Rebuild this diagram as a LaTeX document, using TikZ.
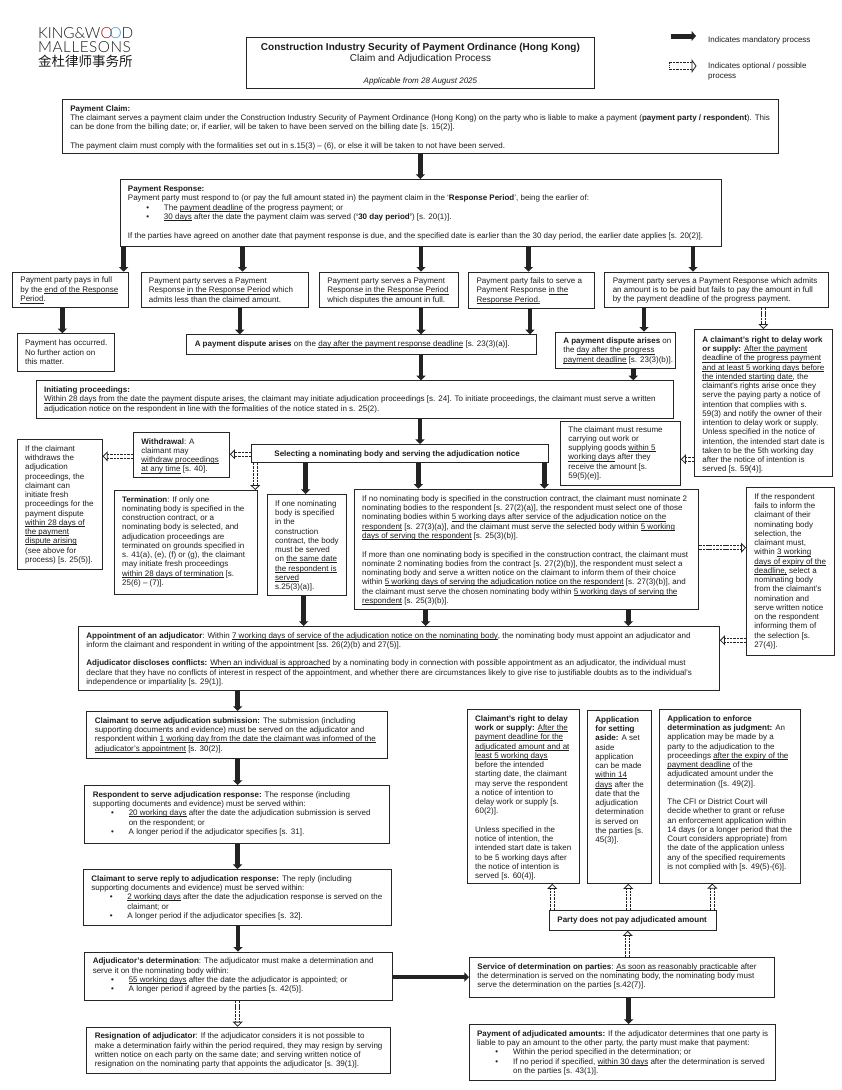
\documentclass[tikz,border=0pt]{standalone}
\usepackage{fontspec}
\setmainfont{Liberation Sans}
\newfontfamily\cjkfont{Noto Sans CJK SC}
\newfontfamily\logofont{Lato Light}
\newfontfamily\logofontb{Lato Light}[LetterSpace=3.6]
\usetikzlibrary{arrows.meta}
\definecolor{ink}{HTML}{1E1E1E}
\definecolor{frame}{HTML}{262626}
\definecolor{arrowc}{HTML}{232323}
\newlength{\gapl}\setlength{\gapl}{9.3pt}
\newcommand{\und}[1]{\setbox0\hbox{#1}\leavevmode\rlap{\rule[-1.5pt]{\wd0}{0.8pt}}\box0\relax}
\newcommand{\bitem}{\hspace*{18.3pt}\makebox[17.7pt][l]{\textbullet}}
\newcommand{\bcont}{\hspace*{36pt}}
\newcommand{\ctrline}[1]{\makebox[348pt][c]{#1}}
% [first baseline]{name}{x1}{y1}{x2}{y2}{text}
\newcommand{\bx}[7][11.8]{%
  \pgfmathsetlengthmacro\bw{(#5-#3)*1pt}%
  \pgfmathsetlengthmacro\bh{(#6-#4)*1pt}%
  \node[procbox,anchor=north west] (#2) at (#3pt,-#4pt) {%
    \begin{minipage}[c][\bh][t]{\bw}%
      \fontsize{8}{9.25}\selectfont\leftskip=8pt\rightskip=-200pt plus 1fil\relax
      \rule{0pt}{#1pt}#7%
    \end{minipage}};%
}
\tikzset{
  procbox/.style={draw=frame,line width=0.9pt,inner sep=0pt,text=ink,fill=white},
  mand/.style={draw=arrowc,line width=4.6pt,-{Triangle[length=4.7pt,width=9.2pt,fill=arrowc]}},
  opt/.style={draw=arrowc,double=white,double distance=3.4pt,line width=0.8pt,dash pattern=on 2.5pt off 0.9pt,
     -{Triangle[open,length=5pt,width=10pt,line width=0.8pt,fill=white]}},
  legendtext/.style={inner sep=0pt,text=ink,font=\fontsize{8}{9.25}\selectfont,align=left},
  logotext/.style={inner sep=0pt,text=black!90},
}
\begin{document}
\begin{tikzpicture}[x=1pt,y=1pt]
\useasboundingbox (0,0) rectangle (842pt,-1090pt);
% logo
\node[logotext,anchor=base west,font=\logofont\fontsize{15.3}{15.3}\selectfont] (logoa) at (38pt,-38.6pt) {KING\&W{\color{red!80!black}O}\kern-3pt{\color{cyan!80!black}O}D};
\node[logotext,anchor=base west,font=\logofontb\fontsize{15.3}{15.3}\selectfont] (logob) at (38pt,-52.8pt) {MALLESONS};
\node[logotext,anchor=base west,font=\cjkfont\fontsize{13.5}{13.5}\selectfont] (logoc) at (38pt,-66.5pt) {金杜律师事务所};
% title
\bx[13.3]{title}{246}{36.7}{594}{88}{\leftskip=0pt\baselineskip=11pt
  \ctrline{\fontsize{10}{11}\selectfont\bfseries Construction Industry Security of Payment Ordinance (Hong Kong)}\\
  \ctrline{\fontsize{10}{11}\selectfont Claim and Adjudication Process}\\[10.6pt]
  \ctrline{\fontsize{8}{11}\selectfont\itshape Applicable from 28 August 2025}}
% legend
\coordinate (lega) at (671pt,-36pt);
\coordinate (legb) at (696pt,-36pt);
\coordinate (legc) at (669.5pt,-66pt);
\coordinate (legd) at (696.5pt,-66pt);
\node[legendtext,anchor=base west] (legt1) at (708pt,-42pt) {Indicates mandatory process};
\node[legendtext,anchor=base west] (legt2) at (708pt,-78.1pt) {Indicates optional / possible\\process};
\draw[mand,line width=5pt,-{Triangle[length=4.5pt,width=10pt,fill=arrowc]}] (lega) -- (legb);
\draw[opt,double distance=6.4pt,-{Triangle[open,length=5pt,width=14pt,line width=0.8pt,fill=white]}] (legc) -- (legd);
\draw[draw=arrowc,line width=0.8pt,dash pattern=on 1.5pt off 0.7pt] ([yshift=3.6pt]legc) -- ([yshift=-3.6pt]legc);
% boxes
\bx{pc}{61.8}{99}{778}{153}{\textbf{Payment Claim:}\\
The claimant serves a payment claim under the Construction Industry Security of Payment Ordinance (Hong Kong) on the party who is liable to make a payment (\textbf{payment party / respondent}). This\\
can be done from the billing date; or, if earlier, will be taken to have been served on the billing date [s. 15(2)].\\[\gapl]
The payment claim must comply with the formalities set out in s.15(3) – (6), or else it will be taken to not have been served.}
\bx{pr}{119.5}{179}{721.3}{246}{\baselineskip=9.5pt \textbf{Payment Response:}\\
Payment party must respond to (or pay the full amount stated in) the payment claim in the ‘\textbf{Response Period}’, being the earlier of:\\
\bitem The \und{payment deadline} of the progress payment; or\\
\bitem\und{30 days} after the date the payment claim was served (\textbf{‘30 day period’}) [s. 20(1)].\\[8.8pt]
If the parties have agreed on another date that payment response is due, and the specified date is earlier than the 30 day period, the earlier date applies [s. 20(2)].}
\bx[10.8]{pays}{12}{271.7}{128}{306.7}{\baselineskip=9.5pt Payment party pays in full\\by the \und{end of the Response}\\\und{Period}.}
\bx[11.3]{less}{140.5}{271.7}{307.8}{306.7}{\baselineskip=9.5pt Payment party serves a Payment\\Response \und{in the Response Period} which\\admits less than the claimed amount.}
\bx[11.3]{disp}{318.8}{271.7}{458.3}{306.7}{\baselineskip=9.5pt Payment party serves a Payment\\Response \und{in the Response Period}\\which disputes the amount in full.}
\bx[11.3]{fail}{468.2}{271.7}{593.8}{307.7}{\baselineskip=9.5pt Payment party fails to serve a\\Payment Response \und{in the}\\\und{Response Period.}}
\bx[11.3]{admit}{604.3}{271.7}{828}{306.7}{\baselineskip=9.2pt Payment party serves a Payment Response which admits\\an amount is to be paid but fails to pay the amount in full\\by the payment deadline of the progress payment.}
\bx{occ}{16.6}{333.3}{113.6}{371}{\baselineskip=9.5pt Payment has occurred.\\No further action on\\this matter.}
\bx{da}{186.3}{334.3}{535.5}{354}{\textbf{A payment dispute arises} on the \und{day after the payment response deadline} [s. 23(3)(a)].}
\bx[11.3]{db}{554.9}{331.7}{674.5}{368}{\baselineskip=9.4pt \textbf{A payment dispute arises} on\\the \und{day after the progress}\\\und{payment deadline} [s. 23(3)(b)].}
\bx[13]{rightone}{694}{329}{832}{476}{\textbf{A claimant's right to delay work}\\\textbf{or supply:} \und{After the payment}\\\und{deadline of the progress payment}\\\und{and at least 5 working days before}\\\und{the intended starting date}, the\\claimant's rights arise once they\\serve the paying party a notice of\\intention that complies with s.\\59(3) and notify the owner of their\\intention to delay work or supply.\\Unless specified in the notice of\\intention, the intended start date is\\taken to be the 5th working day\\after the notice of intention is\\served [s. 59(4)].}
\bx{init}{35.7}{380.3}{672.7}{418}{\textbf{Initiating proceedings:}\\
\und{Within 28 days from the date the payment dispute arises}, the claimant may initiate adjudication proceedings [s. 24]. To initiate proceedings, the claimant must serve a written\\
adjudication notice on the respondent in line with the formalities of the notice stated in s. 25(2).}
\bx{fresh}{16.7}{439}{101.7}{569}{If the claimant\\withdraws the\\adjudication\\proceedings, the\\claimant can\\initiate fresh\\proceedings for the\\payment dispute\\\und{within 28 days of}\\\und{the payment}\\\und{dispute arising}\\(see above for\\process) [s. 25(5)].}
\bx[11.6]{wd}{133}{432}{229}{477}{\textbf{Withdrawal}: A\\claimant may\\\und{withdraw proceedings}\\\und{at any time} [s. 40].}
\bx[12]{sel}{251}{444}{548.3}{462}{\hspace*{15pt}\textbf{Selecting a nominating body and serving the adjudication notice}}
\bx[11.6]{term}{113.7}{490}{256.7}{594}{\textbf{Termination}: If only one\\nominating body is specified in the\\construction contract, or a\\nominating body is selected, and\\adjudication proceedings are\\terminated on grounds specified in\\s. 41(a), (e), (f) or (g), the claimant\\may initiate fresh proceedings\\\und{within 28 days of termination} [s.\\25(6) – (7)].}
\bx{one}{266.7}{494}{345.7}{595}{If one nominating\\body is specified\\in the\\construction\\contract, the body\\must be served\\on \und{the same date}\\\und{the respondent is}\\\und{served}\\s.25(3)(a)].}
\bx[12.3]{none}{353.7}{488.7}{698.3}{609}{If no nominating body is specified in the construction contract, the claimant must nominate 2\\
nominating bodies to the respondent [s. 27(2)(a)], the respondent must select one of those\\
nominating bodies within \und{5 working days after service of the adjudication notice on the}\\
\und{respondent} [s. 27(3)(a)], and the claimant must serve the selected body within \und{5 working}\\
\und{days of serving the respondent} [s. 25(3)(b)].\\[\gapl]
If more than one nominating body is specified in the construction contract, the claimant must\\
nominate 2 nominating bodies from the contract [s. 27(2)(b)], the respondent must select a\\
nominating body and serve a written notice on the claimant to inform them of their choice\\
within \und{5 working days of serving the adjudication notice on the respondent} [s. 27(3)(b)], and\\
the claimant must serve the chosen nominating body within \und{5 working days of serving the}\\
\und{respondent} [s. 25(3)(b)].}
\bx[11]{resume}{560}{420.7}{680}{485}{The claimant must resume\\carrying out work or\\supplying goods \und{within 5}\\\und{working days} after they\\receive the amount [s.\\59(5)(e)].}
\bx[12]{rfail}{746}{487}{833.7}{654.7}{If the respondent\\fails to inform the\\claimant of their\\nominating body\\selection, the\\claimant must,\\within \und{3 working}\\\und{days of expiry of the}\\\und{deadline,} select a\\nominating body\\from the claimant's\\nomination and\\serve written notice\\on the respondent\\informing them of\\the selection [s.\\27(4)].}
\bx[11.6]{appt}{78}{626}{719}{690.3}{\textbf{Appointment of an adjudicator}: Within \und{7 working days of service of the adjudication notice on the nominating body}, the nominating body must appoint an adjudicator and\\
inform the claimant and respondent in writing of the appointment [ss. 26(2)(b) and 27(5)].\\[\gapl]
\textbf{Adjudicator discloses conflicts:} \und{When an individual is approached} by a nominating body in connection with possible appointment as an adjudicator, the individual must\\
declare that they have no conflicts of interest in respect of the appointment, and whether there are circumstances likely to give rise to justifiable doubts as to the individual's\\
independence or impartiality [s. 29(1)].}
\bx{subm}{86.3}{711}{386.7}{758}{\textbf{Claimant to serve adjudication submission:} The submission (including\\supporting documents and evidence) must be served on the adjudicator and\\respondent within \und{1 working day from the date the claimant was informed of the}\\\und{adjudicator's appointment} [s. 30(2)].}
\bx{resp}{84.3}{785}{389}{842.7}{\textbf{Respondent to serve adjudication response:} The response (including\\supporting documents and evidence) must be served within:\\
\bitem\und{20 working days} after the date the adjudication submission is served\\\bcont on the respondent; or\\
\bitem A longer period if the adjudicator specifies [s. 31].}
\bx{reply}{83}{869}{391}{924.7}{\textbf{Claimant to serve reply to adjudication response:} The reply (including\\supporting documents and evidence) must be served within:\\
\bitem\und{2 working days} after the date the adjudication response is served on the\\\bcont claimant; or\\
\bitem A longer period if the adjudicator specifies [s. 32].}
\bx{det}{84.3}{951.7}{391.7}{999.7}{\textbf{Adjudicator's determination}: The adjudicator must make a determination and\\serve it on the nominating body within:\\
\bitem\und{55 working days} after the date the adjudicator is appointed; or\\
\bitem A longer period if agreed by the parties [s. 42(5)].}
\bx{resign}{86.3}{1026.7}{390}{1073}{\textbf{Resignation of adjudicator}: If the adjudicator considers it is not possible to\\make a determination fairly within the period required, they may resign by serving\\written notice on each party on the same date; and serving written notice of\\resignation on the nominating party that appoints the adjudicator [s. 39(1)].}
\bx{delay}{466.7}{709}{579}{883}{\textbf{Claimant's right to delay}\\\textbf{work or supply:} \und{After the}\\\und{payment deadline for the}\\\und{adjudicated amount and at}\\\und{least 5 working days}\\before the intended\\starting date, the claimant\\may serve the respondent\\a notice of intention to\\delay work or supply [s.\\60(2)].\\[\gapl]Unless specified in the\\notice of intention, the\\intended start date is taken\\to be 5 working days after\\the notice of intention is\\served [s. 60(4)].}
\bx{aside}{587}{710}{651}{883}{\textbf{Application}\\\textbf{for setting}\\\textbf{aside:} A set\\aside\\application\\can be made\\\und{within 14}\\\und{days} after the\\date that the\\adjudication\\determination\\is served on\\the parties [s.\\45(3)].}
\bx{enf}{659}{709}{799.7}{882.7}{\textbf{Application to enforce}\\\textbf{determination as judgment:} An\\application may be made by a\\party to the adjudication to the\\proceedings \und{after the expiry of the}\\\und{payment deadline} of the\\adjudicated amount under the\\determination ([s. 49(2)].\\[\gapl]The CFI or District Court will\\decide whether to grant or refuse\\an enforcement application within\\14 days (or a longer period that the\\Court considers appropriate) from\\the date of the application unless\\any of the specified requirements\\is not complied with [s. 49(5)-(6)].}
\bx[12]{party}{549}{910}{716}{930}{\textbf{Party does not pay adjudicated amount}}
\bx{serv}{469}{957}{774}{997}{\textbf{Service of determination on parties}: \und{As soon as reasonably practicable} after\\the determination is served on the nominating body, the nominating body must\\serve the determination on the parties [s.42(7)].}
\bx{payam}{468.7}{1024}{775}{1080}{\textbf{Payment of adjudicated amounts:} If the adjudicator determines that one party is\\liable to pay an amount to the other party, the party must make that payment:\\
\bitem Within the period specified in the determination; or\\
\bitem If no period if specified, \und{within 30 days} after the determination is served\\\bcont on the parties [s. 43(1)].}
% mandatory arrows
\draw[mand] (pc.south -| 420.4pt,0) -- (pr.north -| 420.4pt,0);
\draw[mand] (pr.south -| 123.7pt,0) -- (pays.north -| 123.7pt,0);
\draw[mand] (pr.south -| 242.5pt,0) -- (less.north -| 242.5pt,0);
\draw[mand] (pr.south -| 421pt,0) -- (disp.north -| 421pt,0);
\draw[mand] (pr.south -| 528.5pt,0) -- (fail.north -| 528.5pt,0);
\draw[mand] (pr.south -| 693pt,0) -- (admit.north -| 693pt,0);
\draw[mand] (pays.south -| 62.4pt,0) -- (occ.north -| 62.4pt,0);
\draw[mand] (less.south -| 239.8pt,0) -- (da.north -| 239.8pt,0);
\draw[mand] (disp.south -| 421pt,0) -- (da.north -| 421pt,0);
\draw[mand] (fail.south -| 530pt,0) -- (da.north -| 530pt,0);
\draw[mand] (admit.south -| 644pt,0) -- (db.north -| 644pt,0);
\draw[mand] (da.south -| 421pt,0) -- (init.north -| 421pt,0);
\draw[mand] (db.south -| 633.3pt,0) -- (init.north -| 633.3pt,0);
\draw[mand] (init.south -| 420pt,0) -- (sel.north -| 420pt,0);
\draw[mand] (sel.south -| 305.7pt,0) -- (one.north -| 305.7pt,0);
\draw[mand] (sel.south -| 418.3pt,0) -- (none.north -| 418.3pt,0);
\draw[mand] (sel.south -| 544.3pt,0) -- (none.north -| 544.3pt,0);
\draw[mand] (one.south -| 303.7pt,0) -- (appt.north -| 303.7pt,0);
\draw[mand] (none.south -| 425.7pt,0) -- (appt.north -| 425.7pt,0);
\draw[mand] (none.south -| 628.3pt,0) -- (appt.north -| 628.3pt,0);
\draw[mand] (appt.south -| 237.7pt,0) -- (subm.north -| 237.7pt,0);
\draw[mand] (subm.south -| 237.7pt,0) -- (resp.north -| 237.7pt,0);
\draw[mand] (resp.south -| 237.5pt,0) -- (reply.north -| 237.5pt,0);
\draw[mand] (reply.south -| 238pt,0) -- (det.north -| 238pt,0);
\draw[mand] (det.east |- 0,-977pt) -- (serv.west |- 0,-977pt);
\draw[mand] (serv.south -| 628.7pt,0) -- (payam.north -| 628.7pt,0);
% optional arrows
\draw[opt] (admit.south -| 763.4pt,0) -- (rightone.north -| 763.4pt,0);
\draw[opt] (sel.west |- 0,-454.3pt) -- (wd.east |- 0,-454.3pt);
\draw[opt] (wd.west |- 0,-456.3pt) -- (fresh.east |- 0,-456.3pt);
\draw[opt] (sel.south -| 255.3pt,0) -- (term.north -| 255.3pt,0);
\draw[opt] (rightone.west |- 0,-459.3pt) -- (resume.east |- 0,-459.3pt);
\draw[opt] (none.east |- 0,-547.7pt) -- (rfail.west |- 0,-547.7pt);
\draw[opt] (rfail.west |- 0,-640.3pt) -- (appt.east |- 0,-640.3pt);
\draw[opt] (det.south -| 237.7pt,0) -- (resign.north -| 237.7pt,0);
\draw[opt] (party.north -| 552.3pt,0) -- (delay.south -| 552.3pt,0);
\draw[opt] (party.north -| 628.3pt,0) -- (aside.south -| 628.3pt,0);
\draw[opt] (party.north -| 712.3pt,0) -- (enf.south -| 712.3pt,0);
\draw[opt] (serv.north -| 627.7pt,0) -- (party.south -| 627.7pt,0);
\end{tikzpicture}
\end{document}
